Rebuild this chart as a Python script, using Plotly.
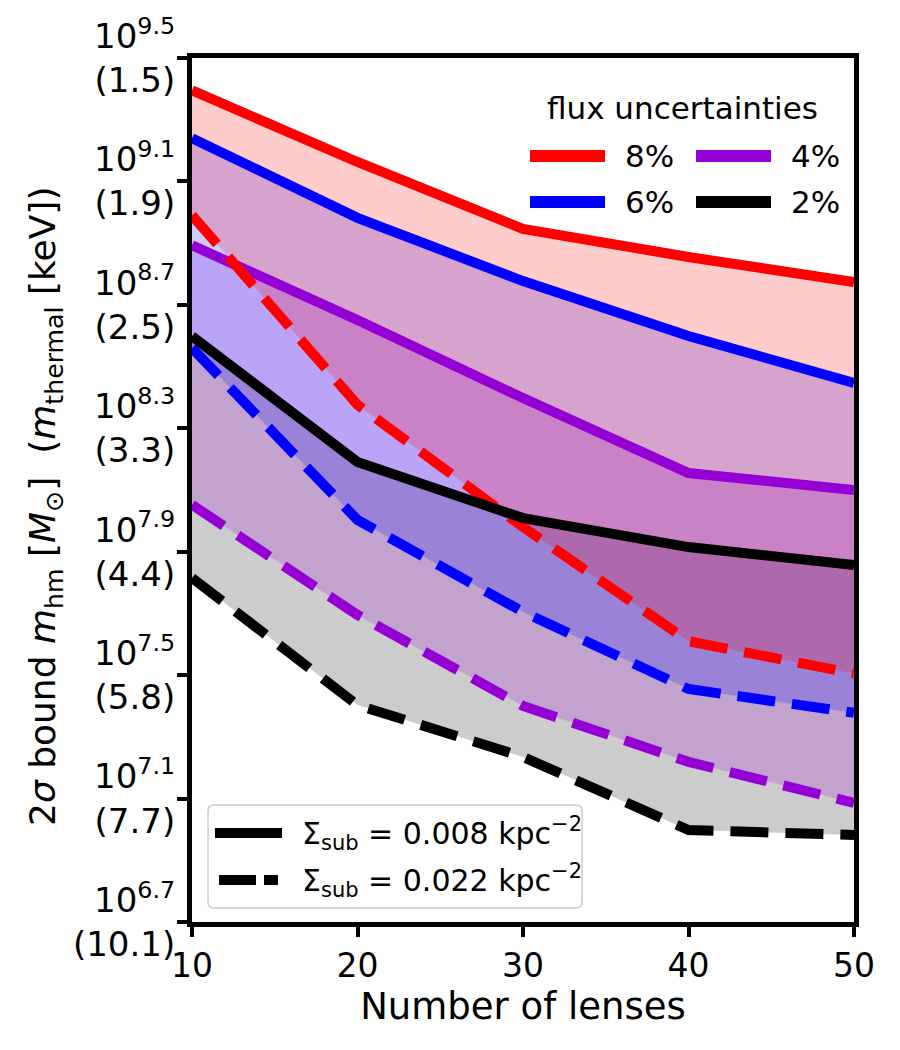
import plotly.graph_objects as go

# ---------------- data ----------------
n_lenses = [10, 20, 30, 40, 50]

# log10(m_hm / M_sun) 2-sigma bounds, Sigma_sub = 0.008 kpc^-2 (solid)
flux8_low = [9.395, 9.163, 8.946, 8.855, 8.774]
flux6_low = [9.240, 8.982, 8.777, 8.599, 8.447]
flux4_low = [8.893, 8.651, 8.398, 8.155, 8.100]
flux2_low = [8.598, 8.191, 8.009, 7.915, 7.857]

# Sigma_sub = 0.022 kpc^-2 (dashed)
flux8_high = [8.990, 8.376, 7.980, 7.610, 7.505]
flux6_high = [8.560, 8.003, 7.705, 7.455, 7.378]
flux4_high = [8.052, 7.695, 7.400, 7.219, 7.086]
flux2_high = [7.815, 7.403, 7.235, 6.998, 6.982]

flux_labels = ["8%", "6%", "4%", "2%"]
sigma_labels = ["Σ<sub>sub</sub> = 0.008 kpc<sup>−2</sup>",
                "Σ<sub>sub</sub> = 0.022 kpc<sup>−2</sup>"]

ytick_vals = [6.7, 7.1, 7.5, 7.9, 8.3, 8.7, 9.1, 9.5]
ytick_kev = ["10.1", "7.7", "5.8", "4.4", "3.3", "2.5", "1.9", "1.5"]
xtick_vals = [10, 20, 30, 40, 50]

# ---------------- style ----------------
FONT = "DejaVu Sans"
colors = {"8%": (255, 0, 0), "6%": (0, 0, 255), "4%": (148, 0, 211), "2%": (0, 0, 0)}
LW = 10
DASH = "38px,17px"

W, H = 900, 1050
L, R, T, B = 192, 854, 58, 922


def px2x(px):
    return (px - L) / (R - L)


def py2y(py):
    return (B - py) / (B - T)


def rgb(c, a=None):
    if a is None:
        return "rgb(%d,%d,%d)" % c
    return "rgba(%d,%d,%d,%s)" % (c + (a,))


fig = go.Figure()

lows = {"8%": flux8_low, "6%": flux6_low, "4%": flux4_low, "2%": flux2_low}
highs = {"8%": flux8_high, "6%": flux6_high, "4%": flux4_high, "2%": flux2_high}

# fills (drawn 2%, 4%, 6%, 8% so the blended colours match)
for lab in ["2%", "4%", "6%", "8%"]:
    c = colors[lab]
    fig.add_trace(go.Scatter(x=n_lenses, y=highs[lab], mode="lines",
                             line=dict(width=0), hoverinfo="skip", showlegend=False))
    fig.add_trace(go.Scatter(x=n_lenses, y=lows[lab], mode="lines", fill="tonexty",
                             fillcolor=rgb(c, 0.2), line=dict(width=0),
                             hoverinfo="skip", showlegend=False))

# lines (order chosen to match overlaps)
line_order = [("8%", "low"), ("6%", "low"), ("4%", "low"),
              ("8%", "high"), ("6%", "high"), ("4%", "high"),
              ("2%", "low"), ("2%", "high")]
for lab, kind in line_order:
    c = colors[lab]
    ys = lows[lab] if kind == "low" else highs[lab]
    fig.add_trace(go.Scatter(x=n_lenses, y=ys, mode="lines",
                             line=dict(color=rgb(c), width=LW,
                                       dash="solid" if kind == "low" else DASH),
                             showlegend=False, hoverinfo="skip"))

shapes = []
annotations = []

# ---- legend 1: flux uncertainties ----
annotations.append(dict(x=px2x(682), y=py2y(108), xref="paper", yref="paper",
                        text="flux uncertainties", showarrow=False,
                        font=dict(family=FONT, size=31, color="black"),
                        xanchor="center", yanchor="middle"))
leg_pos = {"8%": (530, 156), "4%": (696, 156), "6%": (530, 202), "2%": (696, 202)}
for lab in flux_labels:
    x0, yy = leg_pos[lab]
    shapes.append(dict(type="line", xref="paper", yref="paper",
                       x0=px2x(x0), x1=px2x(x0 + 75), y0=py2y(yy), y1=py2y(yy),
                       line=dict(color=rgb(colors[lab]), width=12)))
    annotations.append(dict(x=px2x(x0 + 93), y=py2y(yy), xref="paper", yref="paper",
                            text=lab, showarrow=False,
                            font=dict(family=FONT, size=31, color="black"),
                            xanchor="left", yanchor="middle"))

# ---- legend 2: Sigma_sub ----
bx0, bx1, by0, by1, rr = 208, 582, 805, 908, 6
path = ("M %f,%f L %f,%f Q %f,%f %f,%f L %f,%f Q %f,%f %f,%f L %f,%f Q %f,%f %f,%f "
        "L %f,%f Q %f,%f %f,%f Z") % (
    px2x(bx0 + rr), py2y(by0), px2x(bx1 - rr), py2y(by0),
    px2x(bx1), py2y(by0), px2x(bx1), py2y(by0 + rr),
    px2x(bx1), py2y(by1 - rr),
    px2x(bx1), py2y(by1), px2x(bx1 - rr), py2y(by1),
    px2x(bx0 + rr), py2y(by1),
    px2x(bx0), py2y(by1), px2x(bx0), py2y(by1 - rr),
    px2x(bx0), py2y(by0 + rr),
    px2x(bx0), py2y(by0), px2x(bx0 + rr), py2y(by0))
shapes.append(dict(type="path", xref="paper", yref="paper", path=path,
                   fillcolor="rgba(255,255,255,0.8)",
                   line=dict(color="rgb(204,204,204)", width=1.5)))
# solid sample
shapes.append(dict(type="line", xref="paper", yref="paper",
                   x0=px2x(215), x1=px2x(282), y0=py2y(833), y1=py2y(833),
                   line=dict(color="black", width=10)))
# dashed sample (two dashes)
for a, b in [(219, 256), (264, 278)]:
    shapes.append(dict(type="line", xref="paper", yref="paper",
                       x0=px2x(a), x1=px2x(b), y0=py2y(880), y1=py2y(880),
                       line=dict(color="black", width=10)))
for i, yy in enumerate([833, 880]):
    annotations.append(dict(x=px2x(300), y=py2y(yy), xref="paper", yref="paper",
                            text=sigma_labels[i], showarrow=False,
                            font=dict(family=FONT, size=30, color="black"),
                            xanchor="left", yanchor="middle"))

# ---- y-axis title ----
annotations.append(dict(x=px2x(45), y=py2y(507), xref="paper", yref="paper",
                        text="2<i>σ</i> bound <i>m</i><sub>hm</sub> [<i>M</i><sub>⊙</sub>]  "
                             "(<i>m</i><sub>thermal</sub> [keV])",
                        textangle=-90, showarrow=False,
                        font=dict(family=FONT, size=36, color="black"),
                        xanchor="center", yanchor="middle"))

ytick_text = ["10<sup>%s</sup><br>(%s)" % (v, k) for v, k in zip(ytick_vals, ytick_kev)]

fig.update_layout(
    width=W, height=H,
    margin=dict(l=L, r=W - R, t=T, b=H - B, pad=0),
    plot_bgcolor="white", paper_bgcolor="white",
    font=dict(family=FONT, color="black"),
    showlegend=False,
    shapes=shapes, annotations=annotations,
    xaxis=dict(range=[10, 50], tickmode="array", tickvals=xtick_vals,
               ticks="outside", ticklen=10, tickwidth=4, tickcolor="black",
               showline=True, linewidth=5, linecolor="black", mirror=True,
               showgrid=False, zeroline=False,
               tickfont=dict(family=FONT, size=33, color="black"),
               title=dict(text="Number of lenses",
                          font=dict(family=FONT, size=37, color="black"),
                          standoff=0)),
    yaxis=dict(range=[6.7, 9.5], tickmode="array", tickvals=ytick_vals,
               ticktext=ytick_text,
               ticks="outside", ticklen=10, tickwidth=4, tickcolor="black",
               showline=True, linewidth=5, linecolor="black", mirror=True,
               showgrid=False, zeroline=False, ticklabelstandoff=-5,
               tickfont=dict(family=FONT, size=34, color="black")),
)

fig.write_html("out.html")
